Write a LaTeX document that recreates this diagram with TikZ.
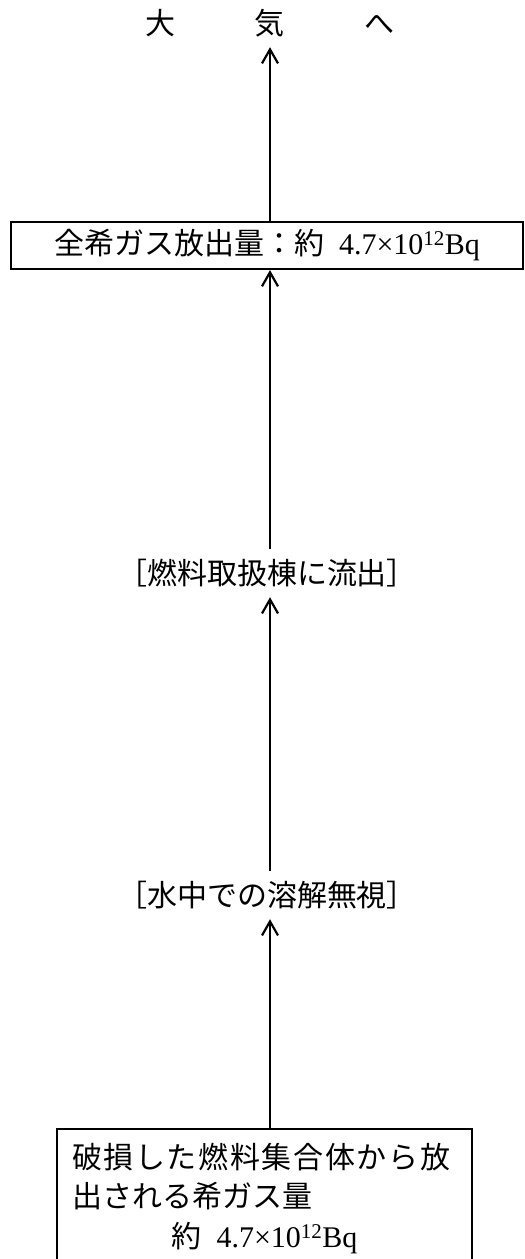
\documentclass[tikz,border=0pt]{standalone}
\usepackage{fontspec}
\setmainfont{Liberation Serif}
\newfontfamily\jp{Noto Sans CJK JP}
\newfontfamily\jpwide[LetterSpace=5.5]{Noto Sans CJK JP}
\usetikzlibrary{arrows.meta,positioning}

\begin{document}
\begin{tikzpicture}[x=1pt,y=-1pt,
  box/.style={draw,line width=2.2pt,inner sep=0pt,
              font=\fontsize{30}{39.5}\selectfont},
  note/.style={font=\jp\fontsize{30}{36}\selectfont,inner sep=10pt},
  arrow/.style={-{Straight Barb[length=14pt,width=16pt,line width=2.2pt]},
                line width=2.2pt}]
\useasboundingbox (0,0) rectangle (525,1259);
\node[note](atm)   at (270,23)    {大\hspace{80pt}気\hspace{80pt}へ};
\node[box,minimum width=512pt,minimum height=47pt](total) at (267,245.5)
  {{\jp 全希ガス放出量：約}\hspace{0.5em}4.7×10\textsuperscript{12}Bq};
\node[note](flow)  at (267,573)   {［燃料取扱棟に流出］};
\node[note](diss)  at (267,895)   {［水中での溶解無視］};
\node[box,anchor=north,minimum width=415pt,minimum height=138pt,
      text width=385pt,align=left](src) at (264.5,1128)
  {{\jpwide 破損した燃料集合体から放}\\{\jp 出される希ガス量}\\
   \makebox[\linewidth]{{\jp 約}\hspace{0.5em}4.7×10\textsuperscript{12}Bq}};
\draw[arrow](src.north -| atm)--(diss.south -| atm);
\draw[arrow](diss.north -| atm)--(flow.south -| atm);
\draw[arrow](flow.north -| atm)--(total.south -| atm);
\draw[arrow](total.north -| atm)--(atm.south);
\end{tikzpicture}
\end{document}
